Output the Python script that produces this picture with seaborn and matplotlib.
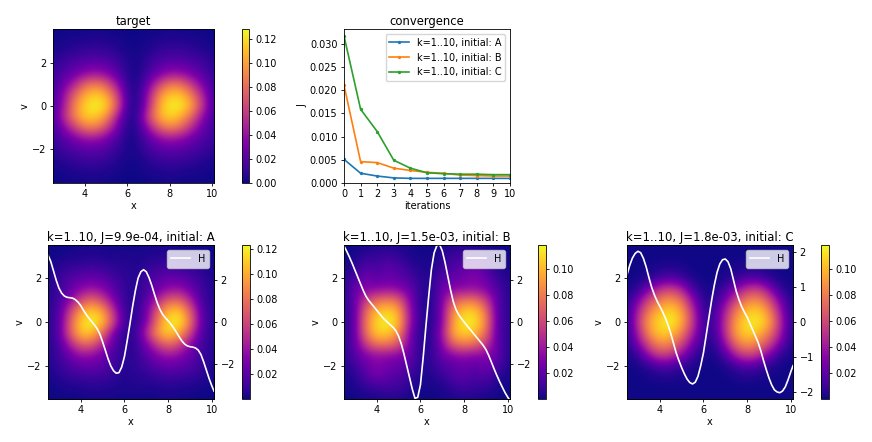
import numpy as np
import matplotlib
matplotlib.use("Agg")
import matplotlib.pyplot as plt
import seaborn as sns

plt.style.use('default')
plt.rcParams.update({'font.size': 7, 'axes.titlesize': 8.4, 'axes.linewidth': 0.6,
                     'xtick.major.width': 0.6, 'ytick.major.width': 0.6,
                     'xtick.major.size': 2.2, 'ytick.major.size': 2.2,
                     'xtick.major.pad': 2, 'ytick.major.pad': 2.5})

iterations = [0, 1, 2, 3, 4, 5, 6, 7, 8, 9, 10]
conv_a = [.0051, .0021, .0015, .0011, .0010, .0010, .0010, .0010, .0010, .0010, .00099]
conv_b = [.0211, .0046, .0044, .0032, .0027, .0023, .0021, .0017, .0016, .0015, .0015]
conv_c = [.0317, .0159, .0111, .0049, .0032, .0022, .0020, .0019, .0019, .0018, .0018]

# density grids, rows v=0..3.5, columns x=2.5..10 in steps of 0.5
target_rows = [
    [.014, .042, .090, .118, .128, .118, .075, .010, .004, .050, .105, .126, .125, .103, .058, .014],
    [.014, .037, .078, .105, .118, .105, .066, .010, .004, .045, .095, .115, .113, .090, .050, .014],
    [.012, .027, .050, .080, .090, .076, .042, .008, .003, .030, .065, .088, .085, .060, .033, .012],
    [.010, .018, .027, .037, .043, .036, .022, .005, .002, .017, .030, .041, .040, .030, .020, .009],
    [.007, .012, .017, .021, .023, .020, .014, .004, .002, .010, .018, .022, .021, .018, .013, .006],
    [.003, .005, .009, .011, .012, .011, .006, .002, .001, .005, .010, .012, .012, .009, .006, .003],
    [.001, .002, .003, .004, .005, .004, .003, .001, .001, .002, .004, .005, .005, .004, .002, .001],
    [.000, .001, .001, .001, .002, .001, .001, .000, .000, .001, .001, .002, .001, .001, .001, .000],
]
a_rows = [
    [.006, .016, .070, .112, .123, .110, .060, .010, .006, .030, .085, .118, .122, .080, .020, .006],
    [.006, .016, .058, .098, .113, .098, .050, .009, .006, .026, .075, .108, .110, .070, .018, .006],
    [.005, .013, .034, .062, .078, .060, .030, .008, .005, .020, .048, .072, .074, .045, .014, .005],
    [.004, .012, .022, .034, .040, .033, .020, .008, .006, .014, .026, .036, .038, .025, .012, .004],
    [.003, .010, .018, .022, .024, .021, .013, .008, .005, .012, .020, .024, .022, .016, .010, .003],
    [.002, .006, .009, .010, .012, .010, .007, .006, .004, .008, .011, .012, .010, .009, .005, .002],
    [.001, .002, .003, .004, .005, .004, .003, .005, .003, .004, .005, .006, .004, .003, .002, .001],
    [.001, .001, .001, .002, .002, .002, .001, .001, .001, .002, .002, .002, .001, .001, .001, .001],
]
b_rows = [
    [.006, .020, .080, .110, .118, .105, .040, .006, .004, .030, .095, .115, .115, .085, .020, .006],
    [.006, .020, .074, .102, .109, .097, .038, .006, .004, .030, .088, .107, .107, .078, .020, .006],
    [.006, .022, .056, .074, .080, .072, .032, .006, .004, .028, .066, .078, .078, .056, .020, .006],
    [.005, .024, .032, .032, .036, .032, .024, .007, .005, .024, .032, .034, .036, .030, .018, .005],
    [.004, .016, .026, .020, .024, .020, .016, .006, .005, .018, .022, .026, .032, .024, .010, .004],
    [.002, .006, .018, .014, .020, .016, .008, .004, .003, .010, .016, .020, .026, .016, .005, .002],
    [.001, .003, .008, .008, .012, .008, .003, .002, .002, .005, .012, .012, .010, .007, .003, .001],
    [.001, .001, .002, .004, .004, .003, .002, .001, .001, .002, .004, .004, .003, .002, .001, .001],
]
c_rows = [
    [.005, .050, .095, .110, .118, .100, .055, .010, .012, .050, .095, .112, .116, .098, .050, .006],
    [.005, .044, .080, .102, .110, .095, .050, .008, .010, .044, .082, .104, .108, .086, .042, .005],
    [.003, .028, .060, .080, .090, .075, .035, .005, .006, .028, .060, .082, .086, .064, .028, .003],
    [.002, .006, .030, .050, .058, .045, .014, .002, .003, .012, .034, .052, .056, .036, .008, .002],
    [.001, .002, .004, .012, .018, .010, .003, .001, .001, .003, .007, .015, .016, .006, .002, .001],
    [.001, .001, .002, .003, .004, .003, .001, .001, .001, .002, .003, .004, .003, .002, .001, .001],
    [.001, .001, .001, .001, .001, .001, .001, .001, .001, .001, .001, .001, .001, .001, .001, .001],
    [.001, .001, .001, .001, .001, .001, .001, .001, .001, .001, .001, .001, .001, .001, .001, .001],
]

# H curves, read every 0.125 in x
h_x = [2.5, 2.625, 2.75, 2.875, 3.0, 3.125, 3.25, 3.375, 3.5, 3.625, 3.75, 3.875, 4.0, 4.125, 4.25, 4.375,
       4.5, 4.625, 4.75, 4.875, 5.0, 5.125, 5.25, 5.375, 5.5, 5.625, 5.75, 5.875, 6.0, 6.125, 6.25, 6.375,
       6.5, 6.625, 6.75, 6.875, 7.0, 7.125, 7.25, 7.375, 7.5, 7.625, 7.75, 7.875, 8.0, 8.125, 8.25, 8.375,
       8.5, 8.625, 8.75, 8.875, 9.0, 9.125, 9.25, 9.375, 9.5, 9.625, 9.75, 9.875, 10.0, 10.1]
h_a = [3.2, 2.9, 2.45, 2.0, 1.62, 1.38, 1.24, 1.18, 1.16, 1.14, 1.07, .95, .78, .56, .36, .18,
       .02, -.14, -.32, -.58, -.95, -1.35, -1.76, -2.1, -2.33, -2.45, -2.42, -2.15, -1.65, -.9, -.1, .75,
       1.5, 2.1, 2.4, 2.5, 2.4, 2.12, 1.75, 1.32, .92, .6, .36, .2, .06, -.1, -.28, -.48,
       -.7, -.9, -1.05, -1.14, -1.18, -1.2, -1.24, -1.34, -1.55, -1.9, -2.3, -2.7, -3.05, -3.3]
h_b = [3.63, 3.38, 3.1, 2.8, 2.48, 2.16, 1.84, 1.52, 1.24, 1.04, .88, .72, .56, .4, .24, .1,
       -.02, -.14, -.26, -.42, -.68, -1.05, -1.55, -2.1, -2.65, -3.2, -3.65, -3.6, -3.0, -1.7, -.2, 1.2,
       2.5, 3.3, 3.65, 3.7, 3.4, 2.85, 2.2, 1.55, .98, .6, .35, .17, .0, -.16, -.32, -.48,
       -.64, -.8, -.96, -1.12, -1.32, -1.6, -1.92, -2.25, -2.56, -2.85, -3.12, -3.38, -3.6, -3.75]
h_c = [1.35, 1.62, 1.83, 1.96, 2.02, 1.98, 1.82, 1.58, 1.28, 1.0, .78, .6, .45, .3, .12, -.08,
       -.32, -.6, -.88, -1.1, -1.3, -1.48, -1.63, -1.73, -1.77, -1.72, -1.55, -1.25, -.88, -.38, .12, .62,
       1.06, 1.42, 1.66, 1.78, 1.8, 1.72, 1.52, 1.2, .88, .64, .44, .28, .14, -.04, -.22, -.4,
       -.58, -.82, -1.1, -1.36, -1.6, -1.8, -1.94, -2.0, -2.02, -1.97, -1.85, -1.65, -1.42, -1.25]

W, H = 872, 442
fig = plt.figure(figsize=(W / 100, H / 100), dpi=100)


def box(x0, x1, y0, y1):
    # pixel box of the picture to figure fractions
    return [x0 / W, 1 - y1 / H, (x1 - x0) / W, (y1 - y0) / H]


def density(rows, ax_box, cb_box, title, vlim, vmin, vmax, cb_ticks):
    ax = fig.add_axes(box(*ax_box))
    upper = np.array(rows)
    lower = upper[1:][::-1, ::-1]
    grid = np.vstack([lower, upper])
    im = ax.imshow(grid, origin='lower', extent=(2.25, 10.25, -3.75, 3.75), cmap='plasma',
                   vmin=vmin, vmax=vmax, interpolation='bicubic', aspect='auto')
    ax.set_xlim(2.5, 10.1)
    ax.set_ylim(-vlim, vlim)
    ax.set_xticks([4, 6, 8, 10])
    ax.set_yticks([-2, 0, 2])
    ax.set_xlabel('x', labelpad=1.5)
    ax.set_ylabel('v', labelpad=1.5)
    ax.set_title(title, pad=3)
    cax = fig.add_axes(box(*cb_box))
    fig.colorbar(im, cax=cax, ticks=cb_ticks)
    return ax


def overlay(ax, h_vals, hlim, ticks):
    tw = ax.twinx()
    sns.lineplot(x=h_x, y=h_vals, color='white', lw=1.2, label='H', ax=tw, errorbar=None)
    tw.set_ylim(-hlim, hlim)
    tw.set_yticks(ticks)
    tw.legend(loc='upper right', fontsize=7)


density(target_rows, (53, 214, 29, 183), (242, 249, 29, 183), 'target', 3.6, 0, .128,
        [0, .02, .04, .06, .08, .10, .12])

ax = fig.add_axes(box(344, 510, 29, 183))
for vals, name in zip([conv_a, conv_b, conv_c], 'ABC'):
    sns.lineplot(x=iterations, y=vals, marker='o', markersize=2.4, markeredgewidth=0, lw=1.2,
                 label=f'k=1..10, initial: {name}', ax=ax, errorbar=None)
ax.set_xlim(0, 10)
ax.set_ylim(0, .0332)
ax.set_xticks(iterations)
ax.set_yticks([0, .005, .01, .015, .02, .025, .03])
ax.set_yticklabels(['0.000', '0.005', '0.010', '0.015', '0.020', '0.025', '0.030'])
ax.set_xlabel('iterations', labelpad=1.5)
ax.set_ylabel('J', labelpad=1.5)
ax.set_title('convergence', pad=3)
ax.legend(loc='upper right', fontsize=7)

bar_ticks = [.02, .04, .06, .08, .10, .12]
ax_a = density(a_rows, (48, 214, 245, 399), (242, 250, 245, 399), 'k=1..10, J=9.9e-04, initial: A',
               3.5, .0005, .123, bar_ticks)
overlay(ax_a, h_a, 3.68, [-2, 0, 2])
ax_b = density(b_rows, (344, 510, 245, 399), (538, 546, 245, 399), 'k=1..10, J=1.5e-03, initial: B',
               3.5, .0005, .118, bar_ticks[:5])
overlay(ax_b, h_b, 3.68, [-2, 0, 2])
ax_c = density(c_rows, (627, 793, 245, 399), (821, 829, 245, 399), 'k=1..10, J=1.8e-03, initial: C',
               3.5, .0005, .118, bar_ticks[:5])
overlay(ax_c, h_c, 2.2, [-2, -1, 0, 1, 2])

fig.savefig('out.png', dpi=100)
